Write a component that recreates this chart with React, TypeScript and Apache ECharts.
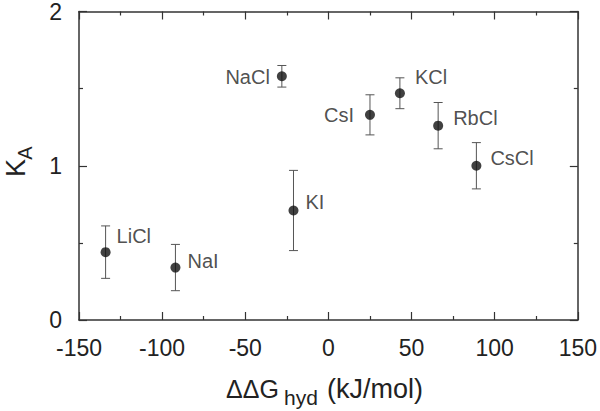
import React, { useEffect, useRef } from "react";
import * as echarts from "echarts";

// ---- data ----
const salts = ["LiCl", "NaI", "NaCl", "KI", "CsI", "KCl", "RbCl", "CsCl"];
const dGhyd = [-134, -92, -28, -21, 25, 43, 66, 89];
const KA = [0.44, 0.34, 1.58, 0.71, 1.33, 1.47, 1.26, 1.0];
const KAlow = [0.27, 0.19, 1.51, 0.45, 1.2, 1.37, 1.11, 0.85];
const KAhigh = [0.61, 0.49, 1.65, 0.97, 1.46, 1.57, 1.41, 1.15];
const xTicks = [-150, -100, -50, 0, 50, 100, 150];
const yTicks = [0, 1, 2];

// label placement (style, not data)
const labelSide = ["right", "right", "left", "right", "left", "right", "right", "right"];
const labelOffset = [
  [1, -16],
  [2, -7],
  [-2, 1],
  [2, -8],
  [-6, 0],
  [5, -16],
  [5, -8],
  [4, -8],
];

const FONT = "'Liberation Sans', Arial, Helvetica, sans-serif";
const TXT = "#222";
const AX = "#333";

export default function App() {
  const ref = useRef<HTMLDivElement>(null);
  useEffect(() => {
    if (!ref.current) return;
    const chart = echarts.init(ref.current, undefined, { renderer: "svg" });
    const axisCommon = {
      type: "value" as const,
      axisLine: { show: true, onZero: false, lineStyle: { color: AX, width: 1.5 } },
      axisTick: { show: true, inside: true, length: 8, lineStyle: { color: AX, width: 1.2 } },
      minorTick: { show: true, splitNumber: 2, length: 4, lineStyle: { color: AX, width: 1.2 } },
      splitLine: { show: false },
      minorSplitLine: { show: false },
    };
    const xMin = xTicks[0], xMax = xTicks[xTicks.length - 1];
    const yMin = yTicks[0], yMax = yTicks[yTicks.length - 1];
    chart.setOption({
      animation: false,
      grid: { left: 79, right: 21, top: 10, bottom: 91, containLabel: false },
      xAxis: [
        {
          ...axisCommon,
          position: "bottom",
          min: xMin,
          max: xMax,
          interval: 50,
          axisLabel: { fontSize: 23, margin: 16, color: TXT, fontFamily: FONT },
        },
        {
          ...axisCommon,
          position: "top",
          min: xMin,
          max: xMax,
          interval: 50,
          axisLabel: { show: false },
        },
      ],
      yAxis: [
        {
          ...axisCommon,
          position: "left",
          min: yMin,
          max: yMax,
          interval: 1,
          axisLabel: { fontSize: 23, margin: 17, color: TXT, fontFamily: FONT },
        },
        {
          ...axisCommon,
          position: "right",
          min: yMin,
          max: yMax,
          interval: 1,
          axisLabel: { show: false },
        },
      ],
      series: [
        {
          type: "custom",
          xAxisIndex: 0,
          yAxisIndex: 0,
          data: dGhyd.map((x, i) => [x, KAlow[i], KAhigh[i]]),
          renderItem: (params: any, api: any) => {
            const x = api.value(0);
            const lo = api.coord([x, api.value(1)]);
            const hi = api.coord([x, api.value(2)]);
            const w = 4.5;
            const st = { stroke: "#555", lineWidth: 1 };
            return {
              type: "group",
              children: [
                { type: "line", shape: { x1: lo[0], y1: lo[1], x2: hi[0], y2: hi[1] }, style: st },
                { type: "line", shape: { x1: lo[0] - w, y1: lo[1], x2: lo[0] + w, y2: lo[1] }, style: st },
                { type: "line", shape: { x1: hi[0] - w, y1: hi[1], x2: hi[0] + w, y2: hi[1] }, style: st },
              ],
            };
          },
          z: 2,
        },
        {
          type: "scatter",
          xAxisIndex: 0,
          yAxisIndex: 0,
          symbol: "circle",
          symbolSize: 10,
          itemStyle: { color: "#111" },
          z: 3,
          data: dGhyd.map((x, i) => ({
            name: salts[i],
            value: [x, KA[i]],
            label: {
              show: true,
              position: labelSide[i],
              distance: 5,
              offset: labelOffset[i],
              formatter: "{b}",
              fontSize: 20,
              color: TXT,
              fontFamily: FONT,
            },
          })),
        },
      ],
      graphic: [
        {
          type: "text",
          x: 16,
          y: 168,
          rotation: Math.PI / 2,
          style: { text: "K", font: `27px ${FONT}`, fill: TXT, align: "center", verticalAlign: "middle" },
        },
        {
          type: "text",
          x: 25,
          y: 153,
          rotation: Math.PI / 2,
          style: { text: "A", font: `20px ${FONT}`, fill: TXT, align: "center", verticalAlign: "middle" },
        },
        {
          type: "text",
          x: 226,
          y: 389,
          style: { text: "ΔΔG", font: `25px ${FONT}`, fill: TXT, align: "left", verticalAlign: "middle" },
        },
        {
          type: "text",
          x: 284,
          y: 397,
          style: { text: "hyd", font: `21px ${FONT}`, fill: TXT, align: "left", verticalAlign: "middle" },
        },
        {
          type: "text",
          x: 327,
          y: 389,
          style: { text: "(kJ/mol)", font: `27px ${FONT}`, fill: TXT, align: "left", verticalAlign: "middle" },
        },
      ],
    });
    return () => chart.dispose();
  }, []);
  return <div ref={ref} style={{ width: 600, height: 411, position: "absolute", left: 0, top: 0 }} />;
}
